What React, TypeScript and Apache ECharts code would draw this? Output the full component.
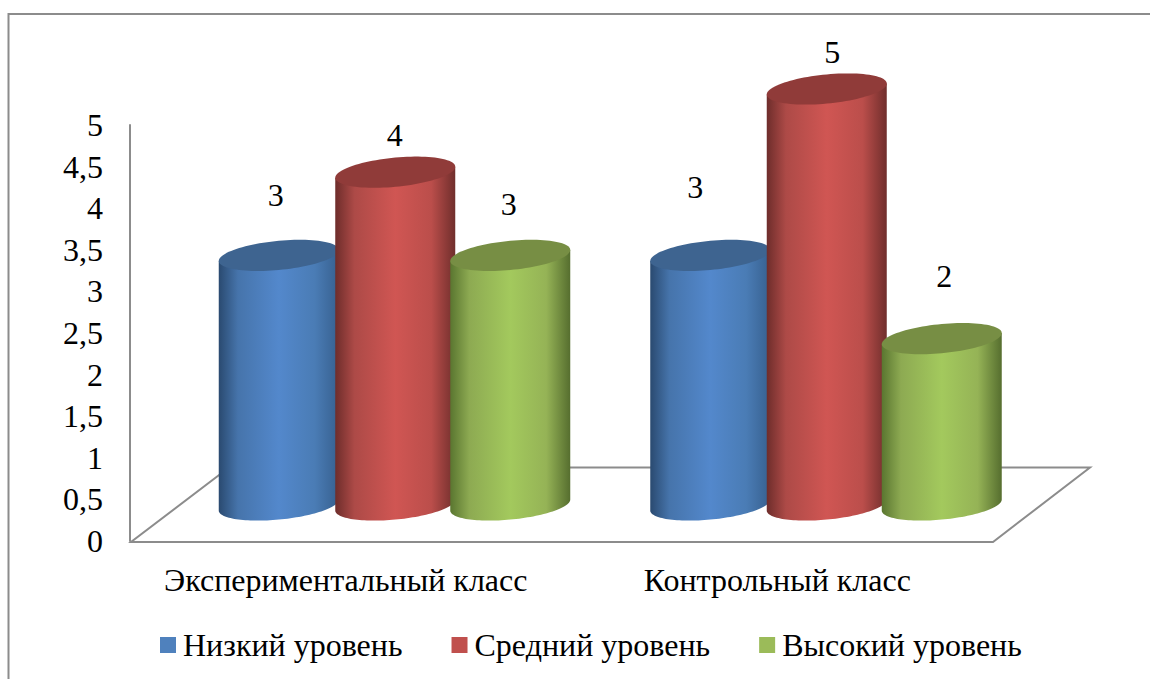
import React, { useEffect, useRef } from "react";
import * as echarts from "echarts";

const categories = ["Экспериментальный класс", "Контрольный класс"];
const seriesNames = ["Низкий уровень", "Средний уровень", "Высокий уровень"];
const lowValues = [3, 3];
const midValues = [4, 5];
const highValues = [3, 2];
const allValues = [lowValues, midValues, highValues];

const FONT = '"Liberation Serif", "Times New Roman", serif';
const AXIS_GREY = "#8c8c8c";

// styling tables
const swatch = ["#4F81BD", "#C0504D", "#9BBB59"];
const topColors = ["#3E6490", "#903B39", "#778E44"];
const bodyStops = [
  ["#2A4A70", "#4674AB", "#5388CC", "#4A7CB5", "#37608F"],
  ["#6E2D2B", "#AD4A47", "#D05653", "#BB4E4B", "#702E2C"],
  ["#5A7630", "#8DAA52", "#A3C95D", "#95B356", "#566E2F"],
];
const seriesDx = [-67, 49.5, 164.5];
const labelDx = [[-3, -15], [-0.5, 5.5], [-1.5, 2.5]];
const labelDy = [[-96, -104], [-73, -73], [-87, -99]];

const RX = 60;
const RY = 14.6;
const SHEAR = 5.5;
const DEPTH = 36;

function ellipsePts(cx: number, cy: number, from: number, to: number, n = 64) {
  const pts: number[][] = [];
  for (let i = 0; i <= n; i++) {
    const t = from + ((to - from) * i) / n;
    const c = Math.cos(t);
    const s = Math.sin(t);
    pts.push([cx + RX * c, cy + RY * s - SHEAR * c]);
  }
  return pts;
}

function makeRender(si: number) {
  return (params: any, api: any) => {
    const cat = api.value(0);
    const val = api.value(1);
    const [x0, yTop] = api.coord([cat, val]);
    const [, yZero] = api.coord([cat, 0]);
    const cx = x0 + seriesDx[si];
    const topY = yTop - DEPTH;
    const baseY = yZero - DEPTH;
    const basePts = ellipsePts(cx, baseY, Math.PI, 0);
    const bodyPts = [[cx - RX, topY + SHEAR], ...basePts, [cx + RX, topY - SHEAR]];
    const s = bodyStops[si];
    return {
      type: "group",
      children: [
        {
          type: "polygon",
          shape: { points: bodyPts },
          style: {
            fill: new echarts.graphic.LinearGradient(0, 0, 1, 0, [
              { offset: 0, color: s[0] },
              { offset: 0.16, color: s[1] },
              { offset: 0.5, color: s[2] },
              { offset: 0.8, color: s[3] },
              { offset: 1, color: s[4] },
            ]),
          },
        },
        {
          type: "polygon",
          shape: { points: ellipsePts(cx, topY, 0, Math.PI * 2, 96) },
          style: { fill: topColors[si] },
        },
        {
          type: "text",
          style: {
            text: String(val),
            x: cx + labelDx[si][cat],
            y: yTop + labelDy[si][cat],
            textAlign: "center",
            textVerticalAlign: "middle",
            font: `32px ${FONT}`,
            fill: "#000",
          },
        },
      ],
    };
  };
}

export default function App() {
  const ref = useRef<HTMLDivElement>(null);
  useEffect(() => {
    const chart = echarts.init(ref.current!, null, { renderer: "svg" });
    chart.setOption({
      animation: false,
      backgroundColor: "#fff",
      textStyle: { fontFamily: FONT },
      grid: { left: 130, right: 157, top: 125, bottom: 138 },
      xAxis: {
        type: "category",
        data: categories,
        axisLine: { show: false },
        axisTick: { show: false },
        axisLabel: { interval: 0, fontFamily: FONT, fontSize: 32, color: "#000", margin: 23, hideOverlap: false },
      },
      yAxis: {
        type: "value",
        min: 0,
        max: 5,
        interval: 0.5,
        splitLine: { show: false },
        axisTick: { show: false },
        axisLine: { show: true, lineStyle: { color: AXIS_GREY, width: 2 } },
        axisLabel: {
          fontFamily: FONT,
          fontSize: 32,
          color: "#000",
          margin: 27,
          formatter: (v: number) => String(v).replace(".", ","),
        },
      },
      legend: {
        left: 160,
        top: 629,
        padding: 0,
        itemWidth: 16,
        itemHeight: 16,
        itemGap: 49,
        icon: "rect",
        textStyle: { fontFamily: FONT, fontSize: 32, color: "#000", padding: [0, 0, 0, 2] },
        data: seriesNames,
      },
      graphic: [
        {
          type: "polyline",
          z: 0,
          shape: { points: [[8.5, 679], [8.5, 14], [1150, 14]] },
          style: { stroke: AXIS_GREY, lineWidth: 2, fill: "none" },
        },
        {
          type: "polygon",
          z: 0,
          shape: { points: [[131, 542], [993, 542], [1090, 467.5], [229, 467.5]] },
          style: { stroke: AXIS_GREY, lineWidth: 2, fill: "none" },
        },
      ],
      series: seriesNames.map((name, si) => ({
        name,
        type: "custom",
        z: 2 + si,
        clip: false,
        itemStyle: { color: swatch[si] },
        encode: { x: 0, y: 1 },
        renderItem: makeRender(si),
        data: allValues[si].map((v, i) => [i, v]),
      })),
    });
    return () => chart.dispose();
  }, []);
  return <div ref={ref} style={{ position: "absolute", left: 0, top: 0, width: 1150, height: 679 }} />;
}
